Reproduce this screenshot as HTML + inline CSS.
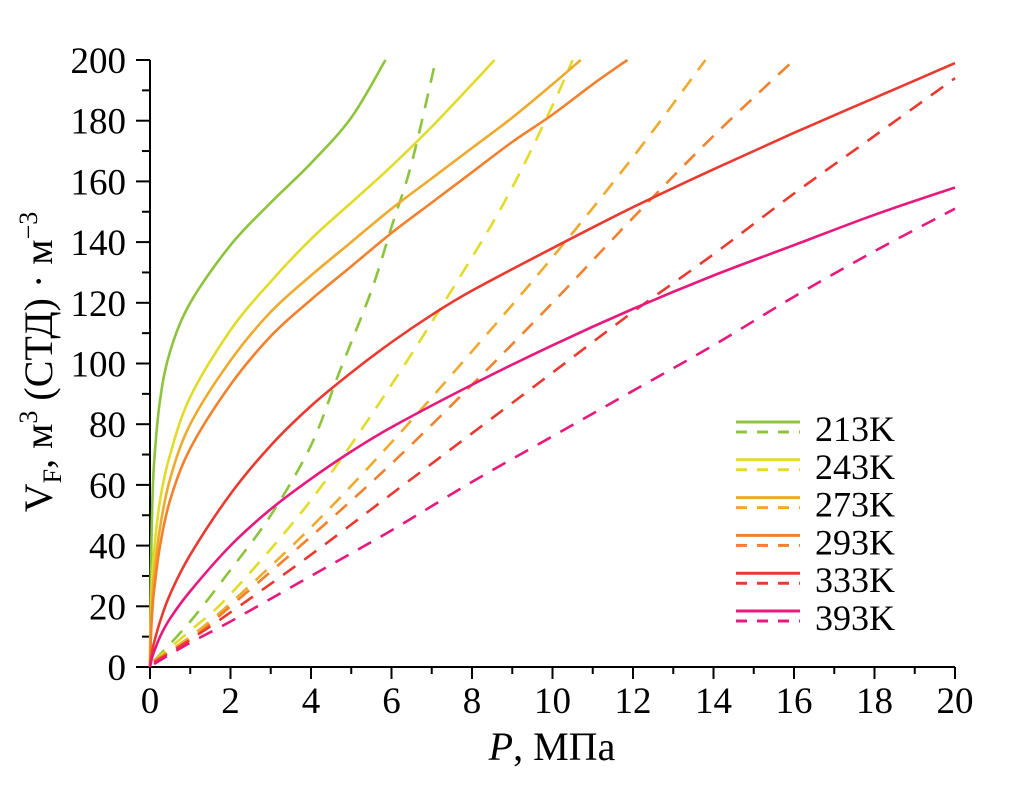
<!DOCTYPE html>
<html><head><meta charset="utf-8"><style>
html,body{margin:0;padding:0;background:#fff;}
svg text{font-family:"Liberation Serif",serif;fill:#000;}
</style></head><body>
<svg id="chart" width="1031" height="782" viewBox="0 0 1031 782" xmlns="http://www.w3.org/2000/svg">
<g id="axes"></g>
<g id="series"></g>
<g id="legend"></g>
<text x="552" y="760" font-size="40" text-anchor="middle"><tspan font-style="italic">P</tspan>, МПа</text>
<text transform="translate(52,362) rotate(-90)" font-size="40" text-anchor="middle">V<tspan font-size="26" dy="9">F</tspan><tspan dy="-9">, м</tspan><tspan font-size="26" dy="-15">3</tspan><tspan dy="15"> (СТД) · м</tspan><tspan font-size="26" dy="-15">−3</tspan></text>
</svg>
<script>
const xTicks=[0,2,4,6,8,10,12,14,16,18,20];
const yTicks=[0,20,40,60,80,100,120,140,160,180,200];
const seriesNames=["213K","243K","273K","293K","333K","393K"];
const seriesColors=["#8cc43c","#e2dc28","#eeaa2c","#f3802c","#ea3a30","#e8197c"];
const solid213=[[0,0],[0.02,30],[0.05,50],[0.1,67],[0.25,88],[0.5,104],[1,120],[2,139],[3,153],[4,166],[5,181],[5.85,200]];
const solid243=[[0,0],[0.02,18],[0.05,28],[0.1,38],[0.25,55],[0.5,70],[1,89],[2,111],[3,127],[4,141],[5,153],[6,165],[7,178],[8,192],[8.56,200]];
const solid273=[[0,0],[0.02,12],[0.05,21],[0.1,30],[0.25,46],[0.5,62],[1,80],[2,101],[3,117],[4,129],[5,140],[6,151],[7,161],[8,171],[9,181],[10,192],[10.7,200]];
const solid293=[[0,0],[0.02,9],[0.05,17],[0.1,25],[0.25,40],[0.5,55],[1,72],[2,93],[3,109],[4,121],[5,132],[6,143],[7,153],[8,163],[9,173],[10,182],[11,192],[11.86,200]];
const solid333=[[0,0],[0.05,5],[0.1,8],[0.25,15],[0.5,24],[1,37],[2,57],[3,73],[4,86],[5,97],[6,107],[7,116],[8,124],[10,138],[12,151.5],[14,164],[16,176],[18,187.5],[20,199]];
const solid393=[[0,0],[0.05,3],[0.1,5],[0.25,10],[0.5,16],[1,25],[2,40],[3,52],[4,62],[5,71],[6,79],[8,93],[10,106],[12,118],[14,129],[16,139],[18,149],[20,158]];
const dash213=[[0.1,2],[1,15],[2,32],[3,50],[4,73],[4.7,97],[5.5,124],[6,145],[6.5,166],[7.1,200]];
const dash243=[[0.1,2],[1,12],[2,24],[4,55],[6,93],[8,135],[9,158],[10,185],[10.5,200]];
const dash273=[[0.1,2],[1,10],[2,21],[4,46],[6,74],[8,104],[10,135],[12,168],[13.8,200]];
const dash293=[[0.1,2],[1,9],[2,20],[4,43],[6,67],[8,93],[10,120],[12,148],[14,175],[16,200]];
const dash333=[[0.1,1.5],[1,9],[2,18],[4,37],[6,57],[8,77],[10,97],[12,117],[14,136],[16,156],[18,175],[20,194]];
const dash393=[[0.1,1],[1,8],[2,15],[4,30],[6,45],[8,61],[10,76],[12,91],[14,106],[16,122],[18,137],[20,151]];
const solids=[solid213,solid243,solid273,solid293,solid333,solid393];
const dashes=[dash213,dash243,dash273,dash293,dash333,dash393];

const X0=150,X1=955,Y0=667,Y1=60;
function sx(v){return X0+(v-0)/(20-0)*(X1-X0);}
function sy(v){return Y0-(v-0)/(200-0)*(Y0-Y1);}
const NS="http://www.w3.org/2000/svg";
function mk(tag,attrs,parent){const e=document.createElementNS(NS,tag);for(const k in attrs)e.setAttribute(k,attrs[k]);parent.appendChild(e);return e;}
function pathD(pts){
  const p=pts.map(q=>[sx(q[0]),sy(q[1])]);
  let d="M"+p[0][0].toFixed(2)+","+p[0][1].toFixed(2);
  for(let i=0;i<p.length-1;i++){
    const p0=p[Math.max(0,i-1)],p1=p[i],p2=p[i+1],p3=p[Math.min(p.length-1,i+2)];
    const c1=[p1[0]+(p2[0]-p0[0])/6,p1[1]+(p2[1]-p0[1])/6];
    const c2=[p2[0]-(p3[0]-p1[0])/6,p2[1]-(p3[1]-p1[1])/6];
    d+=" C"+c1[0].toFixed(2)+","+c1[1].toFixed(2)+" "+c2[0].toFixed(2)+","+c2[1].toFixed(2)+" "+p2[0].toFixed(2)+","+p2[1].toFixed(2);
  }
  return d;
}
const axes=document.getElementById("axes");
const ax=mk("line",{x1:X0,y1:Y0,x2:X1,y2:Y0,stroke:"#000","stroke-width":2},axes);


const ay=mk("line",{x1:X0,y1:Y0,x2:X0,y2:Y1,stroke:"#000","stroke-width":2},axes);


for(let i=0;i<xTicks.length;i++){
  const v=xTicks[i];
  const t=mk("line",{x1:sx(v),y1:Y0,x2:sx(v),y2:Y0+12,stroke:"#000","stroke-width":2},axes);
  
  
  if(i<xTicks.length-1){
    const m=mk("line",{x1:sx(v+1),y1:Y0,x2:sx(v+1),y2:Y0+7,stroke:"#000","stroke-width":2},axes);
    
    
  }
  const l=mk("text",{x:sx(v),y:Y0+46,"font-size":37,"text-anchor":"middle"},axes);
  l.textContent=v;
  
  
}
for(let i=0;i<yTicks.length;i++){
  const v=yTicks[i];
  const t=mk("line",{x1:X0-14,y1:sy(v),x2:X0,y2:sy(v),stroke:"#000","stroke-width":2},axes);
  
  
  if(i<yTicks.length-1){
    const m=mk("line",{x1:X0-8,y1:sy(v+10),x2:X0,y2:sy(v+10),stroke:"#000","stroke-width":2},axes);
    
    
  }
  const l=mk("text",{x:X0-24,y:sy(v)+13,"font-size":37,"text-anchor":"end"},axes);
  l.textContent=v;
  
  
}
const sg=document.getElementById("series");
for(let i=0;i<solids.length;i++){
  const d=mk("path",{d:pathD(dashes[i]),fill:"none",stroke:seriesColors[i],"stroke-width":2.6,"stroke-dasharray":"15 11"},sg);
  
  
}
for(let i=0;i<solids.length;i++){
  const s=mk("path",{d:pathD(solids[i]),fill:"none",stroke:seriesColors[i],"stroke-width":2.6},sg);
  
  
}
const lg=document.getElementById("legend");
for(let i=0;i<seriesNames.length;i++){
  const y=422+i*37.8;
  const g=mk("g",{},lg);
  
  
  mk("line",{x1:736,y1:y,x2:800,y2:y,stroke:seriesColors[i],"stroke-width":3},g);
  mk("line",{x1:736,y1:y+10,x2:800,y2:y+10,stroke:seriesColors[i],"stroke-width":3,"stroke-dasharray":"11 10"},g);
  const t=mk("text",{x:815,y:y+19,"font-size":36},g);
  t.textContent=seriesNames[i];
}
</script>
</body></html>
